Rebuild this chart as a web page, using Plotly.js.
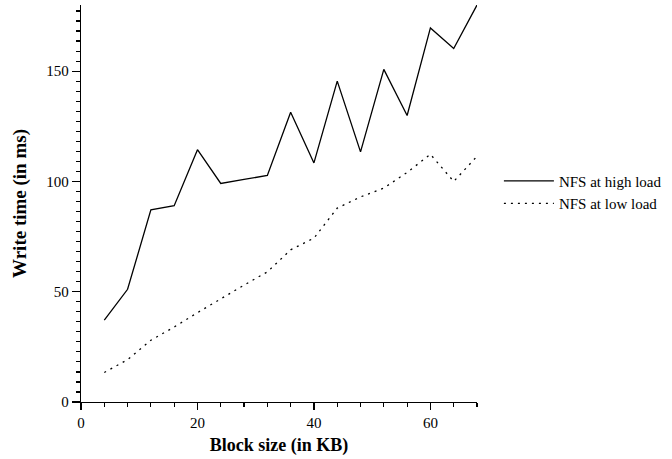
<!DOCTYPE html>
<html>
<head>
<meta charset="utf-8">
<script src="https://cdn.plot.ly/plotly-3.0.1.min.js"></script>
<style>
html,body{margin:0;padding:0;background:#fff;}
#chart{width:672px;height:459px;}
</style>
</head>
<body>
<div id="chart"></div>
<script>
var blockSizes = [4, 8, 12, 16, 20, 24, 28, 32, 36, 40, 44, 48, 52, 56, 60, 64, 68];
var highLoad = [37.1, 51.1, 87.1, 89.0, 114.4, 99.1, 100.9, 102.7, 131.4, 108.4, 145.5, 113.4, 150.8, 129.9, 169.6, 160.3, 180];
var lowLoad = [13.4, 19.2, 28.0, 34.0, 40.5, 46.8, 53.0, 59.0, 69.0, 74.3, 87.9, 93.0, 97.0, 104.1, 112.3, 100.0, 111.4];
var seriesNames = ['NFS at high load', 'NFS at low load'];
var xTitle = 'Block size (in KB)';
var yTitle = 'Write time (in ms)';

var serif = '"Liberation Serif", "DejaVu Serif", serif';

var traces = [
  {x: blockSizes, y: highLoad, name: seriesNames[0], mode: 'lines', type: 'scatter',
   line: {color: '#000', width: 1.3, dash: 'solid'}},
  {x: blockSizes, y: lowLoad, name: seriesNames[1], mode: 'lines', type: 'scatter',
   line: {color: '#000', width: 1.3, dash: '2px,5px'}}
];

var layout = {
  width: 672, height: 459,
  margin: {l: 81, r: 193, t: 5, b: 57, pad: 0},
  paper_bgcolor: '#fff', plot_bgcolor: '#fff',
  font: {family: serif, size: 15, color: '#000'},
  showlegend: true,
  legend: {x: 1.0553, xanchor: 'left', y: 0.598, yanchor: 'top',
           font: {family: serif, size: 15, color: '#000'},
           bgcolor: 'rgba(0,0,0,0)', borderwidth: 0, itemwidth: 50, tracegroupgap: 0},
  xaxis: {
    range: [0, 68], showgrid: false, zeroline: false,
    showline: true, linecolor: '#000', linewidth: 1.3,
    ticks: 'outside', ticklen: 7, tickwidth: 1.3, tickcolor: '#000',
    dtick: 20, tick0: 0,
    tickfont: {family: serif, size: 15, color: '#000'},
    minor: {dtick: 4, tick0: 0, ticks: 'outside', ticklen: 4, tickwidth: 1.2, tickcolor: '#000', showgrid: false},
    title: {text: '<b>' + xTitle + '</b>', font: {family: serif, size: 18, color: '#000'}, standoff: 8}
  },
  yaxis: {
    range: [0, 180], showgrid: false, zeroline: false,
    showline: true, linecolor: '#000', linewidth: 1.3,
    ticks: 'outside', ticklen: 8, tickwidth: 1.3, tickcolor: '#000',
    dtick: 50, tick0: 0,
    tickfont: {family: serif, size: 15, color: '#000'},
    minor: {dtick: 50/11, tick0: 0, ticks: 'outside', ticklen: 4, tickwidth: 1.2, tickcolor: '#000', showgrid: false},
    title: {text: '<b>' + yTitle + '</b>', font: {family: serif, size: 19, color: '#000'}, standoff: 14}
  }
};

Plotly.newPlot('chart', traces, layout, {staticPlot: true, displayModeBar: false});
</script>
</body>
</html>
